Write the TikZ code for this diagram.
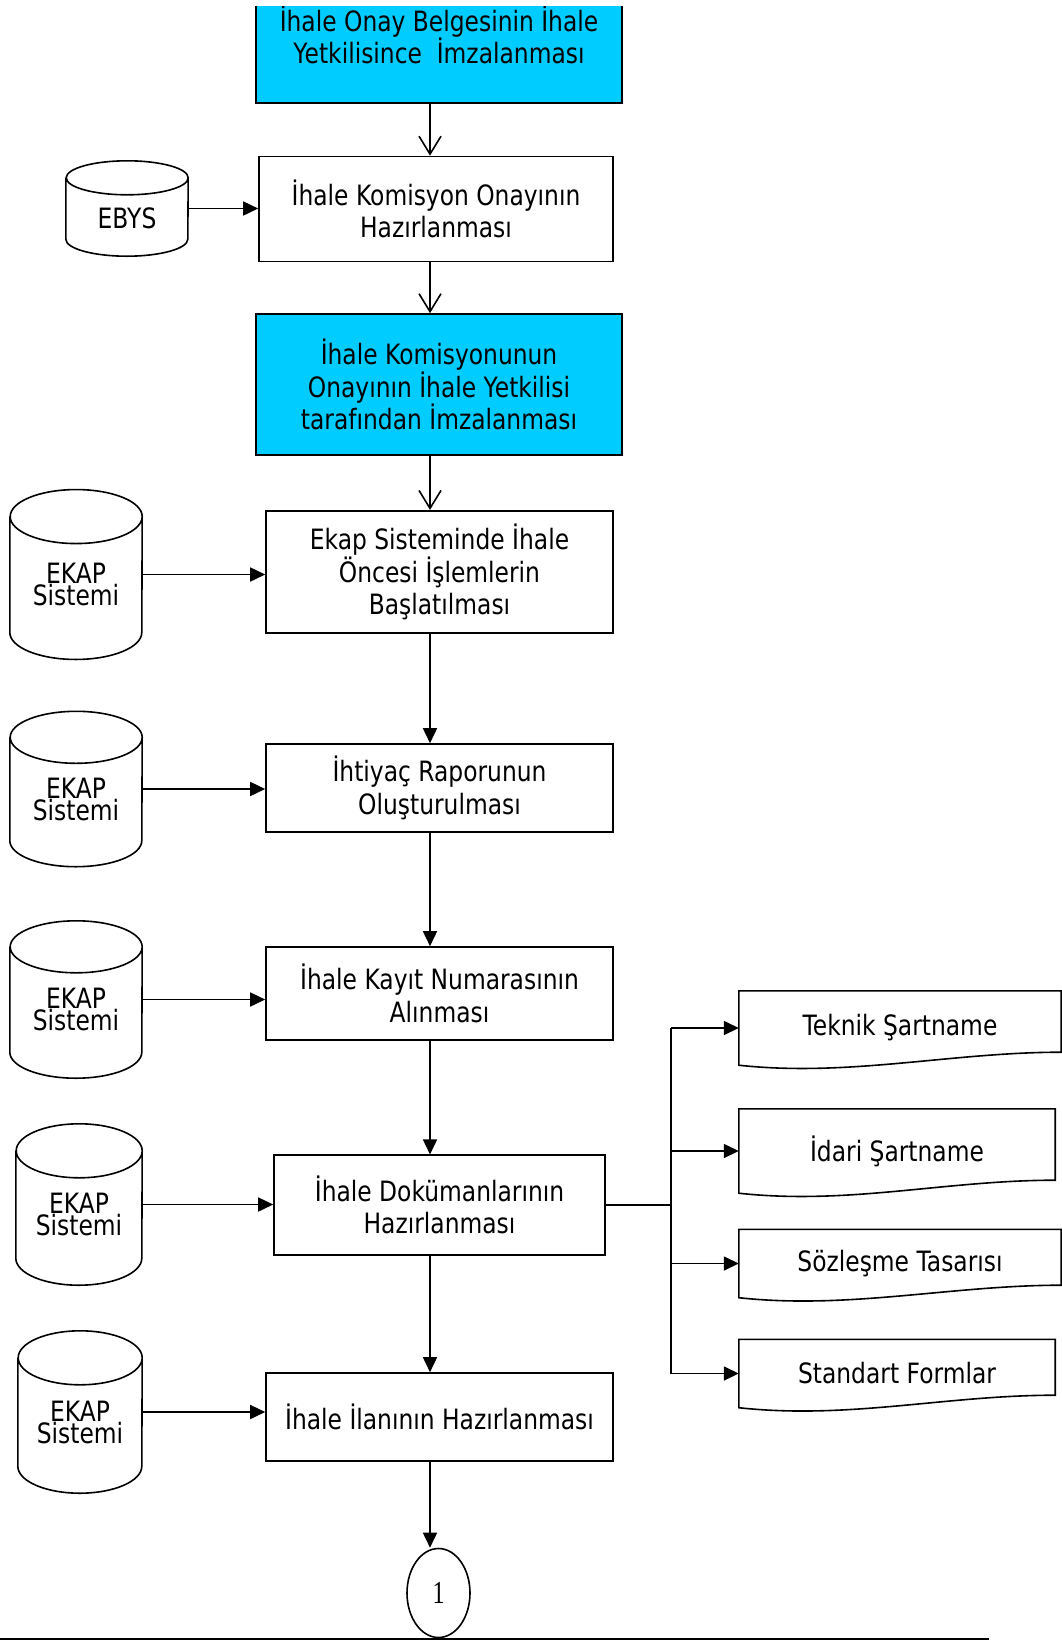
\documentclass[tikz,border=0pt]{standalone}
\usepackage{fontspec}
\setmainfont{DejaVu Sans}[FakeStretch=0.835]
\newfontfamily\numfont{Liberation Serif}[FakeStretch=0.75]
\usetikzlibrary{shapes.geometric}
\usetikzlibrary{arrows.meta}

\definecolor{ihalecyan}{HTML}{00CCFF}
\lineskiplimit=-100pt

\tikzset{
  line/.style={line width=1.6pt},
  procbox/.style={draw, line, align=center, inner sep=0pt},
  docbox/.style={align=center, inner sep=0pt},
  dbbody/.style={inner sep=0pt},
  dbtext/.style={align=center, inner sep=0pt, font=\fontsize{28}{22}\selectfont},
  oa/.style={line, -{Straight Barb[length=18pt,width=22pt]}},
  fa/.style={line, -{Triangle[length=15pt,width=14pt]}}
}

% cylinder: name, centre, width, height, cap radius, text
\newcommand{\dbcyl}[6]{%
  \node[dbbody, minimum width=#3pt, minimum height=#4pt] (#1) at (#2) {};
  \draw[line] ([yshift=-#5pt]#1.north west) -- ([yshift=#5pt]#1.south west)
    arc[start angle=180, end angle=360, x radius=#3pt/2, y radius=#5pt]
    -- ([yshift=-#5pt]#1.north east)
    arc[start angle=0, end angle=360, x radius=#3pt/2, y radius=#5pt];
  \node[dbtext] (#1t) at ([yshift=-10pt]#1.center) {#6};
}

% document outline with wavy bottom: name, rise of the right corner
\newcommand{\docshape}[2]{%
  \draw[line] (#1.north west) -- (#1.north east) -- ([yshift=#2pt]#1.south east)
    .. controls ([xshift=-110pt,yshift=#2pt]#1.south east) and ([xshift=110pt,yshift=-12pt]#1.south west) ..
    (#1.south west) -- cycle;
}

\begin{document}
\begin{tikzpicture}[x=1pt, y=-1pt, font=\fontsize{28}{32.5}\selectfont]
  \useasboundingbox (0,0) rectangle (1061,1641);
  \coordinate (spine) at (430,0);
  \coordinate (trunk) at (671,0);

  \begin{scope}
    \clip (0,6) rectangle (1061,1641);
    \node[procbox, fill=ihalecyan, minimum width=366pt, minimum height=136pt] (onay) at (439,35)
      {İhale Onay Belgesinin İhale\\Yetkilisince\ \ İmzalanması};
  \end{scope}

  \node[procbox, minimum width=354pt, minimum height=105pt] (komisyon) at (436,209)
    {İhale Komisyon Onayının\\Hazırlanması};
  \node[procbox, fill=ihalecyan, minimum width=366pt, minimum height=141pt] (imza) at (439,384.5)
    {İhale Komisyonunun\\Onayının İhale Yetkilisi\\tarafından İmzalanması};
  \node[procbox, minimum width=347pt, minimum height=122.5pt] (ekap) at (439.5,572)
    {Ekap Sisteminde İhale\\Öncesi İşlemlerin\\Başlatılması};
  \node[procbox, minimum width=347pt, minimum height=88pt] (ihtiyac) at (439.5,788)
    {İhtiyaç Raporunun\\Oluşturulması};
  \node[procbox, minimum width=347pt, minimum height=93pt] (kayit) at (439.5,993.5)
    {İhale Kayıt Numarasının\\Alınması};
  \node[procbox, minimum width=331pt, minimum height=99.5pt] (dokuman) at (439.5,1205)
    {İhale Dokümanlarının\\Hazırlanması};
  \node[procbox, minimum width=347pt, minimum height=88pt] (ilan) at (439.5,1417)
    {İhale İlanının Hazırlanması};
  \node[draw, line, ellipse, minimum width=63pt, minimum height=89pt, inner sep=0pt,
    font={\fontsize{32}{32}\numfont}] (baglanti) at (438.5,1593) {1};

  \dbcyl{ebys}{127,208.5}{122}{95}{17}{EBYS}
  \dbcyl{ekapa}{76,574.5}{132}{169.5}{27}{EKAP\\Sistemi}
  \dbcyl{ekapb}{76,789}{132}{155}{26}{EKAP\\Sistemi}
  \dbcyl{ekapc}{76,999.5}{132}{157}{26}{EKAP\\Sistemi}
  \dbcyl{ekapd}{79,1204.5}{126}{161}{27}{EKAP\\Sistemi}
  \dbcyl{ekape}{80,1412}{124}{162}{27}{EKAP\\Sistemi}

  \node[docbox, minimum width=322pt, minimum height=74pt] (teknik) at (900,1028) {Teknik Şartname};
  \docshape{teknik}{13}
  \node[docbox, minimum width=316pt, minimum height=84pt] (idari) at (897,1151) {İdari Şartname};
  \docshape{idari}{13}
  \node[docbox, minimum width=322pt, minimum height=68pt] (sozlesme) at (900,1263.5) {Sözleşme Tasarısı};
  \docshape{sozlesme}{12.5}
  \node[docbox, minimum width=316pt, minimum height=68pt] (standart) at (897,1373.5) {Standart Formlar};
  \docshape{standart}{12.5}

  % main flow
  \draw[oa] (onay.south -| spine) -- (komisyon.north -| spine);
  \draw[oa] (komisyon.south -| spine) -- (imza.north -| spine);
  \draw[oa] (imza.south -| spine) -- (ekap.north -| spine);
  \draw[fa] (ekap.south -| spine) -- (ihtiyac.north -| spine);
  \draw[fa] (ihtiyac.south -| spine) -- (kayit.north -| spine);
  \draw[fa] (kayit.south -| spine) -- (dokuman.north -| spine);
  \draw[fa] (dokuman.south -| spine) -- (ilan.north -| spine);
  \draw[fa] (ilan.south -| spine) -- (baglanti.north -| spine);

  % inputs
  \draw[fa] (ebys.east) -- (ebys.east -| komisyon.west);
  \draw[fa] (ekapa.east) -- (ekapa.east -| ekap.west);
  \draw[fa] (ekapb.east) -- (ekapb.east -| ihtiyac.west);
  \draw[fa] (ekapc.east) -- (ekapc.east -| kayit.west);
  \draw[fa] (ekapd.east) -- (ekapd.east -| dokuman.west);
  \draw[fa] (ekape.east) -- (ekape.east -| ilan.west);

  % documents
  \draw[line] (dokuman.east) -- (dokuman.east -| trunk);
  \draw[line] (teknik.west -| trunk) -- (standart.west -| trunk);
  \draw[fa] (teknik.west -| trunk) -- (teknik.west);
  \draw[fa] (idari.west -| trunk) -- (idari.west);
  \draw[fa] (sozlesme.west -| trunk) -- (sozlesme.west);
  \draw[fa] (standart.west -| trunk) -- (standart.west);

  \draw[line] (0,1639) -- (989,1639);
\end{tikzpicture}
\end{document}
